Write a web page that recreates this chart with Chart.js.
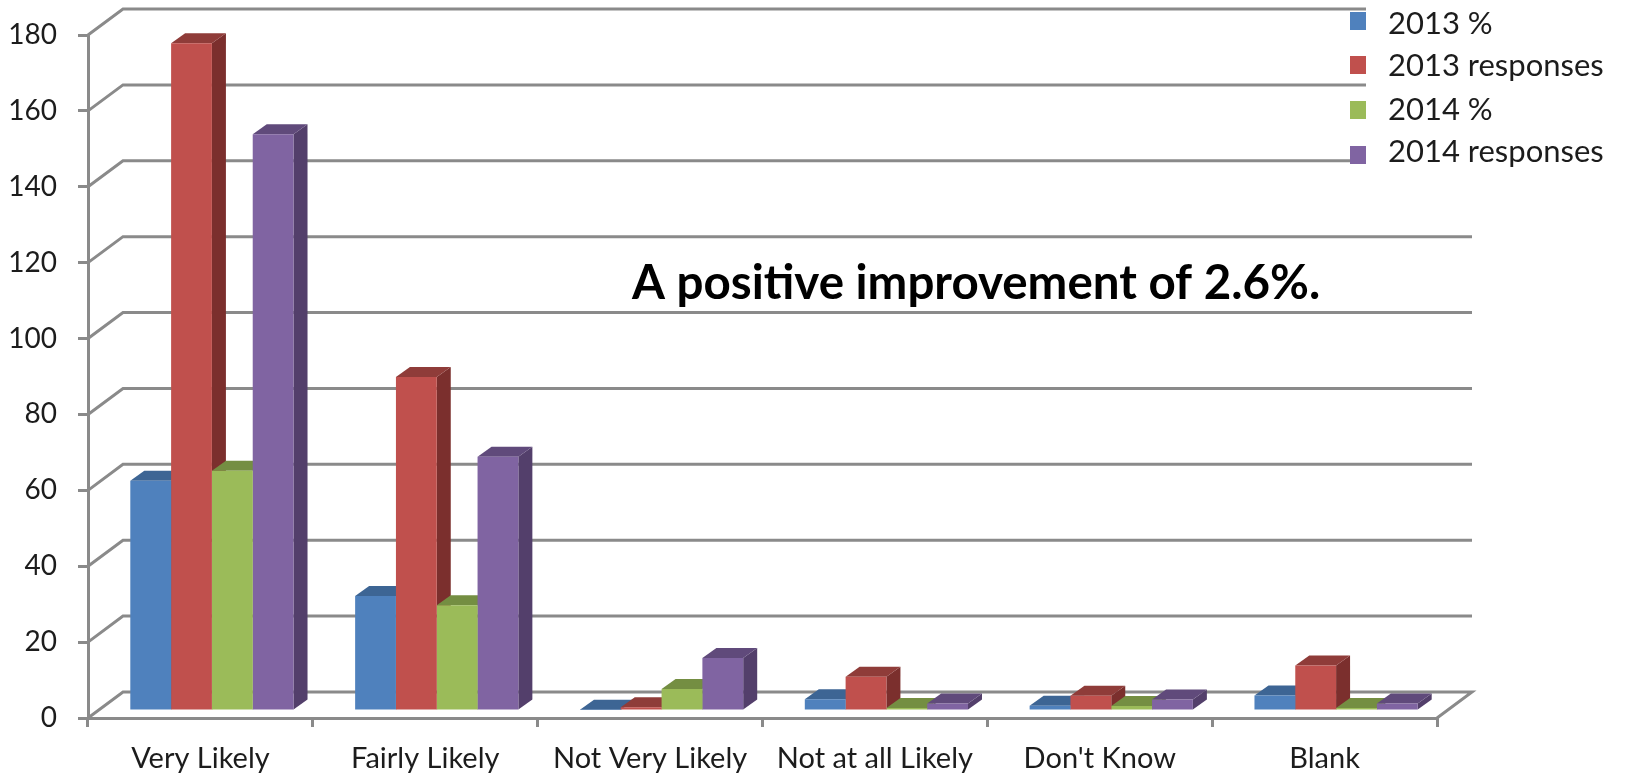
<!DOCTYPE html>
<html>
<head>
<meta charset="utf-8">
<title>Likelihood survey responses</title>
<script src="https://cdn.jsdelivr.net/npm/chart.js@4"></script>
<style>
    html, body { margin: 0; padding: 0; background: #ffffff; }
    #chartBox { width: 1625px; height: 776px; }
</style>
</head>
<body>
<div id="chartBox"><canvas id="likelyChart"></canvas></div>
<script>
const categories = ['Very Likely', 'Fairly Likely', 'Not Very Likely', 'Not at all Likely', "Don't Know", 'Blank'];
const percent2013 = [60.7, 30.3, 0.3, 3.1, 1.4, 4.1];
const responses2013 = [176, 88, 1, 9, 4, 12];
const percent2014 = [63.3, 27.9, 5.8, 0.8, 1.3, 0.8];
const responses2014 = [152, 67, 14, 2, 3, 2];
const seriesLabels = ['2013 %', '2013 responses', '2014 %', '2014 responses'];
const note = 'A positive improvement of 2.6%.';

const FRONT = ['#4f81bd', '#c0504d', '#9bbb59', '#8064a2'];
const TOP = ['#3d6594', '#8f3c39', '#748e42', '#604a7b'];
const SIDE = ['#2f4f75', '#7b2f2d', '#5d7234', '#533f6b'];
const GRID = '#8a8a8a';
const TEXT = '#1c1c1c';
const FONT = 'Lato, Carlito, sans-serif';

// depth of the floor and of a single bar, plus where the bars stand on the floor
const WALL_DX = 35, WALL_DY = 26;
const BAR_DX = 14, BAR_DY = 10;
const SHIFT_X = 11.5, SHIFT_Y = 7;

function poly(ctx, pts, color) {
    ctx.fillStyle = color;
    ctx.beginPath();
    pts.forEach((p, i) => (i ? ctx.lineTo(p[0], p[1]) : ctx.moveTo(p[0], p[1])));
    ctx.closePath();
    ctx.fill();
}

const wallPlugin = {
    id: 'walls',
    beforeDatasetsDraw(chart) {
        const { ctx, chartArea, scales } = chart;
        const left = chartArea.left, right = chartArea.right;
        ctx.save();

        // Back wall lines, slanted side wall lines and the floor outline
        ctx.strokeStyle = GRID;
        ctx.lineWidth = 3;
        scales.y.ticks.forEach(t => {
            const y = scales.y.getPixelForValue(t.value);
            ctx.beginPath();
            ctx.moveTo(left, y);
            ctx.lineTo(left + WALL_DX, y - WALL_DY);
            ctx.lineTo(right + WALL_DX, y - WALL_DY);
            if (t.value === 0) ctx.lineTo(right, y);
            ctx.stroke();
        });

        // Sides and tops, left to right; the library paints the front faces afterwards
        ctx.translate(SHIFT_X, -SHIFT_Y);
        for (let c = 0; c < categories.length; c++) {
            chart.data.datasets.forEach((ds, i) => {
                const bar = chart.getDatasetMeta(i).data[c];
                const x0 = bar.x - bar.width / 2, x1 = bar.x + bar.width / 2;
                poly(ctx, [[x1, bar.y], [x1 + BAR_DX, bar.y - BAR_DY], [x1 + BAR_DX, bar.base - BAR_DY], [x1, bar.base]], SIDE[i]);
                poly(ctx, [[x0, bar.y], [x0 + BAR_DX, bar.y - BAR_DY], [x1 + BAR_DX, bar.y - BAR_DY], [x1, bar.y]], TOP[i]);
            });
        }
        ctx.restore();
    },
    beforeDatasetDraw(chart) {
        chart.ctx.save();
        chart.ctx.translate(SHIFT_X, -SHIFT_Y);
    },
    afterDatasetDraw(chart) {
        chart.ctx.restore();
    },
    // Legend sits on a white box over the wall lines, then the note
    afterDraw(chart) {
        const ctx = chart.ctx;
        ctx.save();
        ctx.fillStyle = '#ffffff';
        ctx.fillRect(1366, 0, 259, 190);
        const markerY = [12, 56, 101, 146];
        const labelY = [24, 66, 110, 152];
        ctx.textBaseline = 'middle';
        ctx.textAlign = 'left';
        ctx.font = '31px ' + FONT;
        seriesLabels.forEach((label, i) => {
            ctx.fillStyle = FRONT[i];
            ctx.fillRect(1350, markerY[i], 16, 18);
            ctx.fillStyle = TEXT;
            ctx.fillText(label, 1388, labelY[i]);
        });
        ctx.font = 'bold 47.5px ' + FONT;
        ctx.fillStyle = '#000000';
        ctx.fillText(note, 632, 284);
        ctx.restore();
    }
};

const seriesValues = [percent2013, responses2013, percent2014, responses2014];

new Chart(document.getElementById('likelyChart'), {
    type: 'bar',
    data: {
        labels: categories,
        datasets: seriesValues.map((values, i) => ({
            label: seriesLabels[i],
            data: values,
            backgroundColor: FRONT[i],
            borderWidth: 0,
            clip: false
        }))
    },
    options: {
        responsive: true,
        maintainAspectRatio: false,
        animation: false,
        categoryPercentage: 0.726,
        barPercentage: 1,
        layout: { padding: { top: 35, right: 188, left: 0, bottom: 0 } },
        scales: {
            x: {
                afterFit(scale) { scale.height = 58; },
                border: { color: GRID, width: 3 },
                grid: { drawOnChartArea: false, color: GRID, lineWidth: 3, tickLength: 9, offset: true },
                ticks: { color: TEXT, font: { family: FONT, size: 29 }, padding: 14, maxRotation: 0, autoSkip: false }
            },
            y: {
                min: 0,
                max: 180,
                afterFit(scale) {
                    scale.width = 88;
                    scale.paddingTop = 0;
                    scale.paddingBottom = 0;
                },
                border: { color: GRID, width: 3 },
                grid: { drawOnChartArea: false, color: GRID, lineWidth: 3, tickLength: 10 },
                ticks: { stepSize: 20, color: TEXT, font: { family: FONT, size: 28 }, padding: 21 }
            }
        },
        plugins: {
            legend: { display: false },
            tooltip: { enabled: false }
        }
    },
    plugins: [wallPlugin]
});
</script>
</body>
</html>
